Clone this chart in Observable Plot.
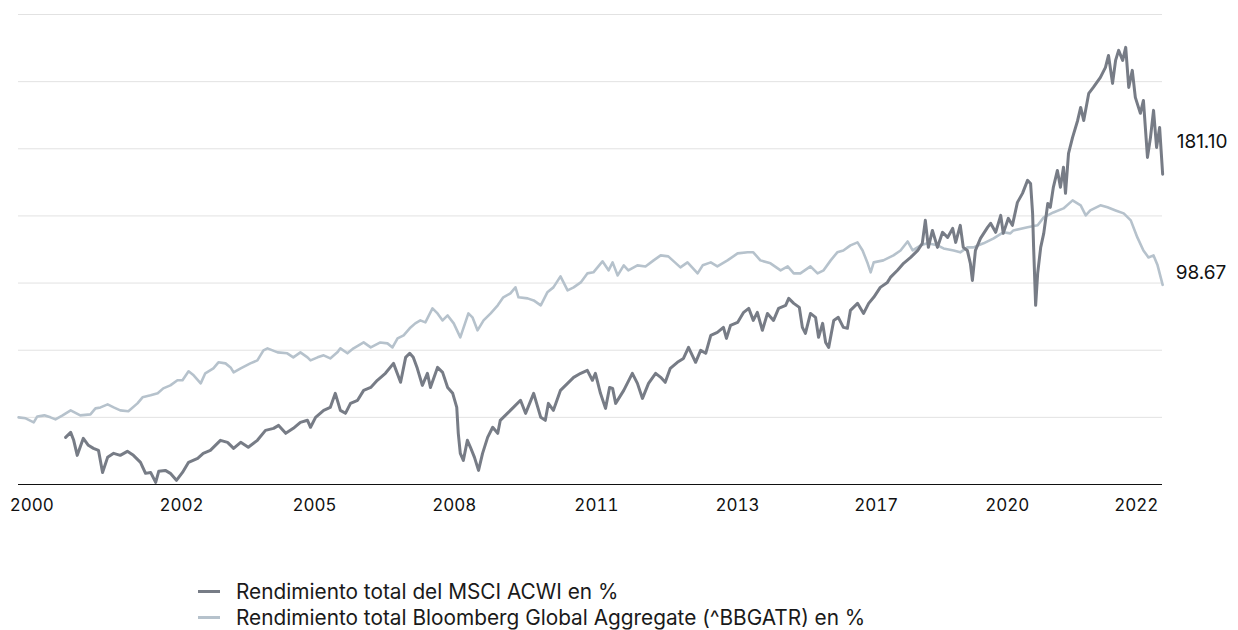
<!DOCTYPE html>
<html><head><meta charset="utf-8">
<script src="https://cdn.jsdelivr.net/npm/d3@7"></script>
<script src="https://cdn.jsdelivr.net/npm/@observablehq/plot@0.6"></script>
<style>
body{margin:0;background:#fff;font-family:Inter,"Liberation Sans",sans-serif;}
#chart{position:relative;width:1238px;height:630px;overflow:hidden;}
.legend{position:absolute;left:198px;top:579px;font-size:20.8px;color:#1a1a1a;line-height:25.5px;}
.legend .row{display:flex;align-items:center;white-space:nowrap;height:25.5px;}
.legend .sw{width:22px;height:3px;margin-right:16px;flex:none;}
</style></head><body><div id="chart"></div>
<script>
const seriesLabels = ["Rendimiento total del MSCI ACWI en %", "Rendimiento total Bloomberg Global Aggregate (^BBGATR) en %"];
const seriesColors = ["#777c86", "#b6c2cc"];

const msciYears = [2001.04,2001.14,2001.20,2001.27,2001.39,2001.49,2001.59,2001.69,2001.77,2001.87,2001.99,2002.12,2002.26,2002.38,2002.52,2002.62,2002.72,2002.82,2002.88,2003.01,2003.11,2003.23,2003.35,2003.47,2003.65,2003.76,2003.90,2004.10,2004.24,2004.36,2004.50,2004.65,2004.83,2004.99,2005.15,2005.25,2005.39,2005.54,2005.68,2005.82,2005.88,2005.98,2006.14,2006.27,2006.37,2006.47,2006.57,2006.67,2006.81,2006.93,2007.07,2007.20,2007.36,2007.52,2007.66,2007.76,2007.84,2007.91,2007.99,2008.09,2008.19,2008.25,2008.39,2008.49,2008.59,2008.69,2008.77,2008.80,2008.84,2008.90,2008.98,2009.04,2009.12,2009.20,2009.28,2009.38,2009.48,2009.58,2009.63,2009.77,2009.89,2010.03,2010.13,2010.29,2010.43,2010.52,2010.58,2010.68,2010.82,2010.96,2011.08,2011.22,2011.35,2011.45,2011.51,2011.61,2011.71,2011.79,2011.85,2011.91,2012.07,2012.24,2012.34,2012.44,2012.56,2012.70,2012.80,2012.89,2012.99,2013.13,2013.25,2013.35,2013.49,2013.59,2013.69,2013.79,2013.92,2014.04,2014.10,2014.18,2014.32,2014.44,2014.54,2014.63,2014.71,2014.81,2014.91,2015.03,2015.13,2015.27,2015.33,2015.43,2015.54,2015.60,2015.66,2015.76,2015.86,2015.92,2016.00,2016.06,2016.12,2016.22,2016.31,2016.41,2016.49,2016.55,2016.69,2016.81,2016.91,2017.01,2017.14,2017.28,2017.34,2017.48,2017.60,2017.74,2017.88,2017.97,2018.03,2018.09,2018.17,2018.27,2018.37,2018.47,2018.57,2018.63,2018.72,2018.78,2018.86,2018.92,2018.96,2019.02,2019.12,2019.26,2019.32,2019.42,2019.52,2019.57,2019.67,2019.75,2019.85,2019.95,2020.05,2020.11,2020.15,2020.17,2020.21,2020.25,2020.31,2020.37,2020.45,2020.50,2020.56,2020.64,2020.70,2020.76,2020.80,2020.86,2020.94,2021.04,2021.10,2021.16,2021.26,2021.35,2021.49,2021.59,2021.65,2021.73,2021.79,2021.85,2021.93,2021.99,2022.05,2022.12,2022.18,2022.28,2022.34,2022.42,2022.48,2022.54,2022.60,2022.66,2022.72];
const msciValues = [-14.9,-11.2,-17.1,-28.3,-15.6,-20.8,-23.1,-24.6,-41.0,-29.8,-26.8,-28.3,-25.3,-28.3,-33.5,-41.7,-41.0,-48.4,-40.2,-39.5,-41.7,-46.9,-41.0,-33.5,-30.5,-26.8,-24.6,-17.1,-18.6,-23.1,-18.6,-22.3,-17.1,-9.7,-8.2,-6.0,-11.9,-8.2,-3.7,-2.2,-7.4,0.0,5.2,7.4,17.9,5.2,3.0,10.4,12.7,20.1,22.3,27.6,32.8,40.2,26.1,44.7,47.7,44.7,36.5,23.8,32.8,22.3,37.2,33.5,22.3,17.9,7.4,-11.9,-26.8,-32.0,-17.1,-22.3,-29.8,-39.5,-26.8,-14.9,-7.4,-11.9,-2.2,3.0,7.4,12.7,3.0,17.9,0.0,-2.2,10.4,5.2,20.1,25.3,29.8,32.8,35.0,27.6,32.8,17.9,6.7,22.3,21.6,10.4,20.1,32.8,25.3,14.1,25.3,32.8,29.8,26.1,36.5,41.0,43.9,52.1,41.0,49.9,47.7,61.1,63.3,67.0,58.8,68.5,70.7,78.2,81.2,72.2,78.2,64.8,77.4,72.2,81.2,83.4,88.6,84.9,81.9,67.0,62.5,77.4,74.5,59.6,70.0,55.8,52.1,72.2,74.5,67.0,66.3,79.7,84.9,77.4,84.9,89.4,96.8,100.5,104.2,109.5,114.7,119.1,124.3,129.6,146.7,126.6,139.2,126.6,137.8,134.0,140.7,130.3,143.0,126.6,124.3,114.7,102.0,124.3,133.3,141.5,144.5,137.8,150.4,137.0,148.2,143.0,160.1,166.8,176.5,174.2,151.9,126.6,83.4,107.2,126.6,137.0,159.3,156.4,171.3,183.9,171.3,186.2,166.8,196.6,208.5,221.1,230.8,221.1,241.3,245.7,253.2,260.6,269.5,248.7,265.8,273.3,265.8,275.5,245.7,258.4,238.3,226.4,236.0,193.6,208.5,228.6,201.0,215.9,181.10];

const bondYears = [2000.11,2000.25,2000.41,2000.48,2000.62,2000.74,2000.84,2000.98,2001.14,2001.33,2001.53,2001.63,2001.73,2001.87,2001.99,2002.12,2002.28,2002.46,2002.56,2002.72,2002.86,2002.97,2003.11,2003.25,2003.35,2003.47,2003.57,2003.71,2003.80,2003.96,2004.06,2004.20,2004.30,2004.36,2004.50,2004.69,2004.83,2004.95,2005.03,2005.23,2005.42,2005.54,2005.68,2005.82,2005.88,2006.02,2006.14,2006.27,2006.41,2006.47,2006.61,2006.73,2006.93,2007.07,2007.26,2007.40,2007.50,2007.60,2007.72,2007.84,2007.95,2008.05,2008.15,2008.29,2008.39,2008.49,2008.59,2008.71,2008.84,2008.90,2009.00,2009.08,2009.18,2009.30,2009.44,2009.58,2009.69,2009.83,2009.93,2009.99,2010.17,2010.29,2010.43,2010.56,2010.68,2010.82,2010.96,2011.08,2011.22,2011.35,2011.47,2011.65,2011.77,2011.85,2011.95,2012.07,2012.16,2012.34,2012.50,2012.66,2012.80,2012.95,2013.19,2013.33,2013.53,2013.63,2013.79,2013.92,2014.12,2014.32,2014.52,2014.63,2014.77,2014.97,2015.17,2015.31,2015.43,2015.56,2015.76,2015.90,2016.02,2016.16,2016.29,2016.41,2016.55,2016.69,2016.79,2016.89,2016.95,2017.01,2017.20,2017.40,2017.54,2017.68,2017.78,2017.94,2018.07,2018.27,2018.39,2018.59,2018.72,2018.86,2018.98,2019.18,2019.38,2019.57,2019.71,2019.77,2020.05,2020.25,2020.37,2020.56,2020.76,2020.94,2021.10,2021.20,2021.29,2021.49,2021.63,2021.79,2021.95,2022.09,2022.22,2022.34,2022.44,2022.54,2022.62,2022.72];
const bondValues = [0.0,-0.7,-3.7,0.7,1.5,0.0,-1.5,1.5,5.2,1.5,2.2,6.7,7.4,9.7,7.4,5.2,4.5,10.4,14.9,16.4,17.9,21.6,23.8,27.6,27.6,34.3,31.3,25.3,32.8,36.5,41.0,40.2,37.2,33.5,36.5,40.2,42.4,49.9,51.4,48.4,47.7,44.7,48.4,44.7,42.4,44.7,46.2,43.9,48.4,51.4,47.7,51.4,55.8,52.1,55.8,55.1,52.1,58.8,61.1,66.3,70.0,72.2,70.7,81.2,77.4,72.2,75.9,70.0,59.6,66.3,77.4,74.5,64.8,72.2,77.4,83.4,89.4,92.3,96.8,89.4,88.6,87.1,83.4,93.1,96.8,105.0,94.6,96.8,100.5,107.2,108.0,116.2,109.5,115.4,105.7,113.2,109.5,113.2,112.4,116.9,120.6,119.9,111.7,115.4,107.2,113.2,115.4,112.4,116.9,122.1,122.9,122.9,116.9,114.7,109.5,112.4,107.2,107.2,112.4,107.2,109.5,116.9,122.9,124.3,128.1,130.3,124.3,114.7,108.0,115.4,116.9,120.6,124.3,131.0,124.3,128.1,129.6,128.1,125.8,124.3,122.9,126.6,126.6,129.6,133.3,137.8,137.0,139.2,141.5,143.0,148.9,152.6,155.6,161.6,157.9,150.4,154.1,157.9,156.4,154.1,151.9,146.7,134.0,124.3,119.1,120.6,113.2,98.67];

const tickYears = [2000.37,2003.33,2005.96,2008.72,2011.53,2014.32,2017.06,2019.65,2022.20];
const tickLabels = ["2000","2002","2005","2008","2011","2013","2017","2020","2022"];
const gridValues = [0,50,100,150,200,250,300];

const msciData = msciYears.map((t,i)=>({t, v: msciValues[i]}));
const bondData = bondYears.map((t,i)=>({t, v: bondValues[i]}));
const msciLast = msciData[msciData.length-1];
const bondLast = bondData[bondData.length-1];

const plot = Plot.plot({
  width: 1238, height: 540,
  marginLeft: 18, marginRight: 76, marginTop: 14, marginBottom: 56,
  style: {fontFamily: "Inter, 'Liberation Sans', sans-serif", fontSize: "18px", color: "#111", background: "#fff"},
  x: {type: "linear", domain: [2000.109, 2022.717], axis: null, label: null},
  y: {domain: [-50, 300], axis: null, label: null},
  marks: [
    Plot.gridY(gridValues, {stroke: "#e2e2e2", strokeOpacity: 1, strokeWidth: 1}),
    Plot.ruleY([-50], {stroke: "#111", strokeWidth: 1.2}),
    Plot.axisX(tickYears, {label: null, tickSize: 0, tickPadding: 14, fontSize: 17, fill: "#111",
      tickFormat: d => tickLabels[tickYears.indexOf(d)]}),
    Plot.line(bondData, {x: "t", y: "v", stroke: seriesColors[1], strokeWidth: 2.6, strokeLinejoin: "round"}),
    Plot.line(msciData, {x: "t", y: "v", stroke: seriesColors[0], strokeWidth: 3, strokeLinejoin: "round"}),
    Plot.text([msciLast], {x: "t", y: "v", text: d => d.v.toFixed(2), dx: 14, dy: -32, textAnchor: "start", fontSize: 19, fill: "#111"}),
    Plot.text([bondLast], {x: "t", y: "v", text: d => d.v.toFixed(2), dx: 13, dy: -12, textAnchor: "start", fontSize: 19, fill: "#111"})
  ]
});
const chart = document.getElementById("chart");
chart.appendChild(plot);
const legend = document.createElement("div");
legend.className = "legend";
seriesLabels.forEach((lab, i) => {
  const row = document.createElement("div");
  row.className = "row";
  const sw = document.createElement("span");
  sw.className = "sw";
  sw.style.background = seriesColors[i];
  const tx = document.createElement("span");
  tx.textContent = lab;
  row.appendChild(sw); row.appendChild(tx);
  legend.appendChild(row);
});
chart.appendChild(legend);
</script></body></html>
